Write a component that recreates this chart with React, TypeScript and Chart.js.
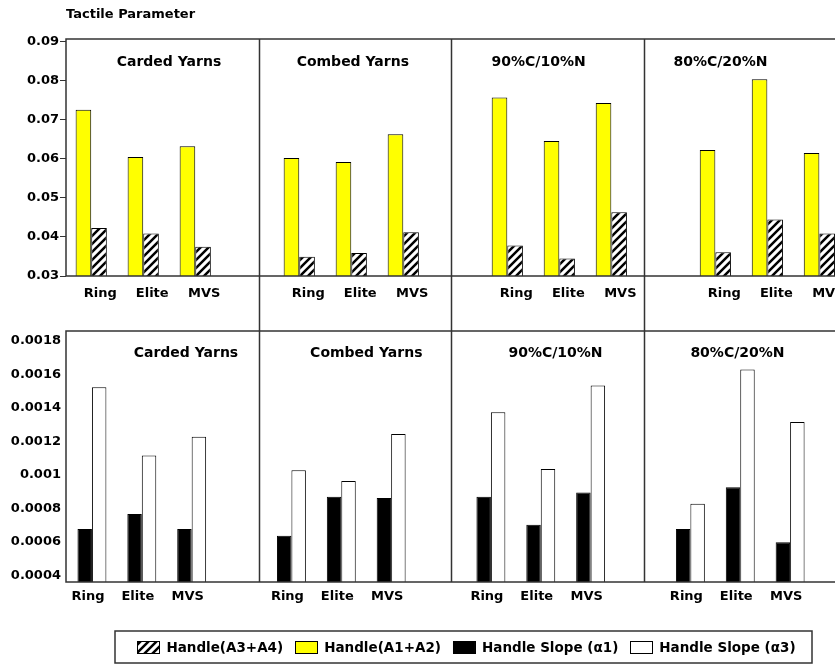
import React, { useEffect, useRef } from 'react';
import { Chart, registerables } from 'chart.js';

Chart.register(...registerables);

// ---------- data ----------
const CHART_TITLE = 'Tactile Parameter';
const PANELS = ['Carded Yarns', 'Combed Yarns', '90%C/10%N', '80%C/20%N'];
const CATEGORIES = ['Ring', 'Elite', 'MVS'];

const HANDLE_A1_A2 = [0.0726, 0.0605, 0.0632, 0.0602, 0.0592, 0.0663, 0.0757, 0.0646, 0.0743, 0.0623, 0.0804, 0.0615];
const HANDLE_A3_A4 = [0.0423, 0.0409, 0.0375, 0.0349, 0.0359, 0.0412, 0.0378, 0.0345, 0.0463, 0.0361, 0.0445, 0.0409];
const SLOPE_ALPHA1 = [0.000677, 0.000766, 0.000677, 0.000637, 0.00087, 0.000862, 0.00087, 0.000702, 0.000895, 0.000677, 0.000926, 0.000598];
const SLOPE_ALPHA3 = [0.001524, 0.001116, 0.001228, 0.001028, 0.000964, 0.001245, 0.001374, 0.001035, 0.001534, 0.000827, 0.00163, 0.001316];

const TOP_Y_TICKS = [0.03, 0.04, 0.05, 0.06, 0.07, 0.08, 0.09];
const BOTTOM_Y_TICKS = [0.0004, 0.0006, 0.0008, 0.001, 0.0012, 0.0014, 0.0016, 0.0018];

const LEGEND_LABELS = ['Handle(A3+A4)', 'Handle(A1+A2)', 'Handle Slope (\u03b11)', 'Handle Slope (\u03b13)'];

// ---------- layout / style ----------
const FONT = '"DejaVu Sans", "Liberation Sans", sans-serif';
const STRIDE = CATEGORIES.length + 1; // one empty slot between panels
const xPos = (i: number) => Math.floor(i / CATEGORIES.length) * STRIDE + (i % CATEGORIES.length);
const X_TICKS = HANDLE_A1_A2.map((_, i) => xPos(i));

const CANVAS_W = 860;
const TOP_H = 318;
const BOTTOM_H = 348;
const AXIS_W = 66;
const LINE_COLOR = '#333';

const TOP_TITLE_FRACS = [0.535, 0.49, 0.455, 0.40];
const BOTTOM_TITLE_FRACS = [0.623, 0.56, 0.543, 0.488];

const LEGEND_BOX = { x: 115, y: 313, w: 697, h: 32 };

function makeHatch(): CanvasPattern | string {
  const s = 8;
  const c = document.createElement('canvas');
  c.width = s;
  c.height = s;
  const g = c.getContext('2d');
  if (!g) return '#888';
  g.fillStyle = '#fff';
  g.fillRect(0, 0, s, s);
  g.strokeStyle = '#000';
  g.lineWidth = 2.5;
  g.beginPath();
  g.moveTo(0, s); g.lineTo(s, 0);
  g.moveTo(-s / 2, s / 2); g.lineTo(s / 2, -s / 2);
  g.moveTo(s / 2, s * 1.5); g.lineTo(s * 1.5, s / 2);
  g.stroke();
  return g.createPattern(c, 'repeat') || '#888';
}

function panelsPlugin(titles: string[], fracs: number[], titleOffset: number, extendUp: boolean, extendDown: boolean) {
  return {
    id: 'panels',
    afterDatasetsDraw(chart: any) {
      const { ctx, chartArea: a } = chart;
      const n = titles.length;
      const w = (a.right - a.left) / n;
      ctx.save();
      ctx.strokeStyle = LINE_COLOR;
      ctx.lineWidth = 1.5;
      ctx.strokeRect(a.left, a.top, a.right - a.left, a.bottom - a.top);
      for (let k = 1; k < n; k++) {
        const x = Math.round(a.left + w * k) + 0.5;
        ctx.beginPath();
        ctx.moveTo(x, extendUp ? 0 : a.top);
        ctx.lineTo(x, extendDown ? chart.height : a.bottom);
        ctx.stroke();
      }
      ctx.fillStyle = '#000';
      ctx.font = 'bold 14px ' + FONT;
      ctx.textAlign = 'center';
      ctx.textBaseline = 'middle';
      titles.forEach((t, k) => {
        ctx.fillText(t, a.left + w * k + w * fracs[k], a.top + titleOffset);
      });
      ctx.restore();
    },
  };
}

function boxLegendPlugin(items: { label: string; fill: any }[]) {
  return {
    id: 'boxLegend',
    afterDraw(chart: any) {
      const { ctx } = chart;
      ctx.save();
      ctx.font = 'bold 13.5px ' + FONT;
      const sw = 22, sh = 12, gapText = 7, gapItem = 12;
      const widths = items.map((it) => sw + gapText + ctx.measureText(it.label).width);
      const total = widths.reduce((s, v) => s + v, 0) + gapItem * (items.length - 1);
      const b = LEGEND_BOX;
      ctx.strokeStyle = LINE_COLOR;
      ctx.lineWidth = 1.5;
      ctx.strokeRect(b.x, b.y, b.w, b.h);
      const cy = b.y + b.h / 2;
      let x = b.x + b.w / 2 - total / 2 + 3;
      ctx.textBaseline = 'middle';
      ctx.textAlign = 'left';
      items.forEach((it, i) => {
        ctx.fillStyle = it.fill;
        ctx.fillRect(x, cy - sh / 2, sw, sh);
        ctx.strokeStyle = '#000';
        ctx.lineWidth = 1;
        ctx.strokeRect(Math.round(x) + 0.5, Math.round(cy - sh / 2) + 0.5, sw, sh);
        ctx.fillStyle = '#000';
        ctx.fillText(it.label, x + sw + gapText, cy + 1);
        x += widths[i] + gapItem;
      });
      ctx.restore();
    },
  };
}

const tickFont = { family: FONT, size: 13, weight: 'bold' as const };

function xScale(min: number, max: number, padding: number, labelOffset: number) {
  return {
    type: 'linear' as const,
    min,
    max,
    offset: false,
    grid: { display: false, drawTicks: false, offset: false },
    border: { display: false },
    afterBuildTicks: (scale: any) => {
      scale.ticks = X_TICKS.map((v) => ({ value: v }));
    },
    ticks: {
      autoSkip: false,
      maxRotation: 0,
      minRotation: 0,
      padding,
      labelOffset,
      color: '#000',
      font: tickFont,
      callback: (v: any) => CATEGORIES[Math.round(Number(v)) % STRIDE] ?? '',
    },
  };
}

export default function App() {
  const topRef = useRef<HTMLCanvasElement>(null);
  const bottomRef = useRef<HTMLCanvasElement>(null);

  useEffect(() => {
    if (!topRef.current || !bottomRef.current) return;
    const hatch = makeHatch();

    const top = new Chart(topRef.current, {
      type: 'bar',
      data: {
        datasets: [
          {
            label: LEGEND_LABELS[1],
            data: HANDLE_A1_A2.map((y, i) => ({ x: xPos(i), y })),
            backgroundColor: '#FFFF00',
            borderColor: '#000',
            borderWidth: 1,
          },
          {
            label: LEGEND_LABELS[0],
            data: HANDLE_A3_A4.map((y, i) => ({ x: xPos(i), y })),
            backgroundColor: hatch as any,
            borderColor: '#000',
            borderWidth: 1,
          },
        ],
      },
      options: {
        responsive: false,
        animation: false,
        devicePixelRatio: 1,
        categoryPercentage: 0.6,
        barPercentage: 1,
        layout: { padding: { left: 0, right: CANVAS_W - 836, top: 0, bottom: 6.4 } },
        plugins: {
          legend: { display: false },
          tooltip: { enabled: false },
          title: {
            display: true,
            text: CHART_TITLE,
            align: 'start',
            fullSize: false,
            color: '#000',
            font: { family: FONT, size: 13, weight: 'bold' },
            padding: { top: 7, bottom: 16.4 },
          },
        },
        scales: {
          x: xScale(-0.485, 14.32, 10, 9) as any,
          y: {
            min: 0.03,
            max: 0.0907,
            afterFit: (scale: any) => { scale.width = AXIS_W; },
            afterBuildTicks: (scale: any) => { scale.ticks = TOP_Y_TICKS.map((v) => ({ value: v })); },
            grid: { display: true, drawOnChartArea: false, drawTicks: true, tickLength: 6, color: LINE_COLOR, lineWidth: 1 },
            border: { display: false },
            ticks: {
              padding: 1,
              color: '#000',
              font: tickFont,
              callback: (v: any) => Number(v).toFixed(2),
            },
          },
        },
      } as any,
      plugins: [panelsPlugin(PANELS, TOP_TITLE_FRACS, 23, false, true) as any],
    });

    const bottom = new Chart(bottomRef.current, {
      type: 'bar',
      data: {
        datasets: [
          {
            label: LEGEND_LABELS[2],
            data: SLOPE_ALPHA1.map((y, i) => ({ x: xPos(i), y })),
            backgroundColor: '#000',
            borderColor: '#000',
            borderWidth: 1,
          },
          {
            label: LEGEND_LABELS[3],
            data: SLOPE_ALPHA3.map((y, i) => ({ x: xPos(i), y })),
            backgroundColor: '#fff',
            borderColor: '#000',
            borderWidth: 1,
          },
        ],
      },
      options: {
        responsive: false,
        animation: false,
        devicePixelRatio: 1,
        categoryPercentage: 0.58,
        barPercentage: 1,
        layout: { padding: { left: 0, right: CANVAS_W - 836, top: 13, bottom: 54.4 } },
        plugins: {
          legend: { display: false },
          tooltip: { enabled: false },
        },
        scales: {
          x: xScale(-0.52, 14.92, 7, -4) as any,
          y: {
            min: 0.00036,
            max: 0.00186,
            afterFit: (scale: any) => { scale.width = AXIS_W; },
            afterBuildTicks: (scale: any) => { scale.ticks = BOTTOM_Y_TICKS.map((v) => ({ value: v })); },
            grid: { display: false, drawTicks: false },
            border: { display: false },
            ticks: {
              padding: 5,
              color: '#000',
              font: tickFont,
              callback: (v: any) => String(parseFloat(Number(v).toFixed(4))),
            },
          },
        },
      } as any,
      plugins: [
        panelsPlugin(PANELS, BOTTOM_TITLE_FRACS, 22, true, false) as any,
        boxLegendPlugin([
          { label: LEGEND_LABELS[0], fill: hatch },
          { label: LEGEND_LABELS[1], fill: '#FFFF00' },
          { label: LEGEND_LABELS[2], fill: '#000' },
          { label: LEGEND_LABELS[3], fill: '#fff' },
        ]) as any,
      ],
    });

    return () => {
      top.destroy();
      bottom.destroy();
    };
  }, []);

  return (
    <div
      style={{
        position: 'absolute',
        left: 0,
        top: 0,
        width: 835,
        height: 666,
        overflow: 'hidden',
        background: '#fff',
      }}
    >
      <canvas
        ref={topRef}
        width={CANVAS_W}
        height={TOP_H}
        style={{ position: 'absolute', left: 0, top: 0, display: 'block' }}
      />
      <canvas
        ref={bottomRef}
        width={CANVAS_W}
        height={BOTTOM_H}
        style={{ position: 'absolute', left: 0, top: TOP_H, display: 'block' }}
      />
    </div>
  );
}
